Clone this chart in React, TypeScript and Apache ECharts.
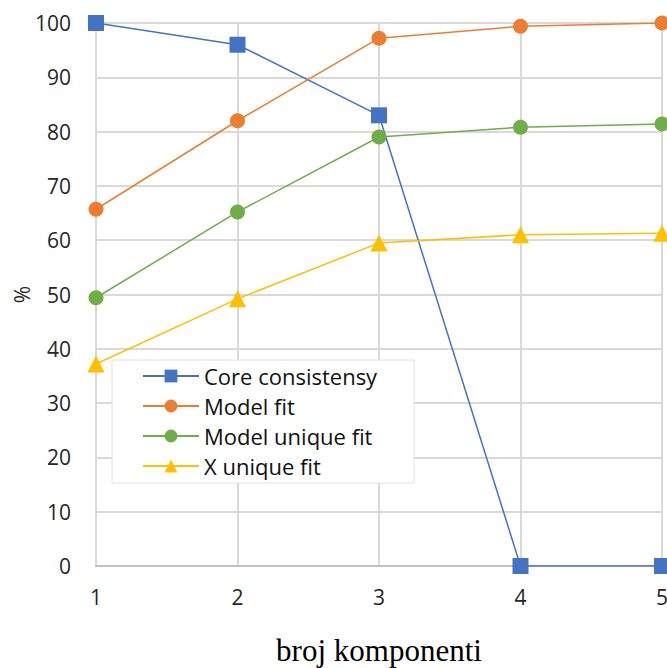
import React, { useEffect, useRef } from "react";
import * as echarts from "echarts";

const categories = ["1", "2", "3", "4", "5"];
const coreConsistensy = [100, 96, 83, 0, 0];
const modelFit = [65.7, 82, 97.2, 99.4, 100];
const modelUniqueFit = [49.4, 65.2, 79, 80.8, 81.4];
const xUniqueFit = [37.2, 49.2, 59.5, 61, 61.3];
const seriesNames = ["Core consistensy", "Model fit", "Model unique fit", "X unique fit"];

export default function App() {
  const ref = useRef<HTMLDivElement>(null);
  useEffect(() => {
    if (!ref.current) return;
    const chart = echarts.init(ref.current, null, { renderer: "svg" });
    const labelFont = { fontFamily: "Open Sans", fontSize: 21, color: "#262626" };
    const mk = (name: string, data: number[], color: string, symbol: string, size: number) => ({
      name,
      type: "line",
      data,
      symbol,
      symbolSize: size,
      itemStyle: { color },
      lineStyle: { color, width: 1.5 },
      z: 3,
    });
    chart.setOption({
      animation: false,
      backgroundColor: "#fff",
      grid: { left: 96, right: 5, top: 23, bottom: 102, containLabel: false, outerBoundsMode: "none" },
      xAxis: {
        type: "category",
        data: categories,
        boundaryGap: false,
        name: "broj komponenti",
        nameLocation: "middle",
        nameGap: 69,
        nameMoveOverlap: false,
        nameTextStyle: { fontFamily: "Liberation Serif", fontSize: 31, color: "#000" },
        axisLine: { show: true, lineStyle: { color: "#bfbfbf", width: 2 } },
        axisTick: { show: false },
        axisLabel: { ...labelFont, margin: 20 },
        splitLine: { show: true, lineStyle: { color: "#d9d9d9", width: 2 } },
      },
      yAxis: {
        type: "value",
        min: 0,
        max: 100,
        interval: 10,
        name: "%",
        nameLocation: "middle",
        nameRotate: 90,
        nameGap: 64,
        nameMoveOverlap: false,
        nameTextStyle: { fontFamily: "Open Sans", fontSize: 21, color: "#262626" },
        axisLine: { show: false },
        axisTick: { show: false },
        axisLabel: { ...labelFont, margin: 25 },
        splitLine: { show: true, lineStyle: { color: "#d9d9d9", width: 2 } },
      },
      legend: {
        data: seriesNames,
        orient: "vertical",
        left: 112,
        top: 360,
        width: 300,
        padding: [5, 37, 6, 30],
        itemWidth: 56,
        itemHeight: 16,
        itemGap: 8,
        backgroundColor: "#fff",
        borderColor: "#e2e2e2",
        borderWidth: 1,
        textStyle: { fontFamily: "Open Sans", fontSize: 22, color: "#111" },
        z: 10,
      },
      series: [
        mk(seriesNames[0], coreConsistensy, "#4472C4", "rect", 16),
        mk(seriesNames[1], modelFit, "#ED7D31", "circle", 15),
        mk(seriesNames[2], modelUniqueFit, "#70AD47", "circle", 15),
        mk(seriesNames[3], xUniqueFit, "#FFC000", "triangle", 17),
      ],
    });
    return () => chart.dispose();
  }, []);
  return (
    <div
      ref={ref}
      style={{ position: "fixed", left: 0, top: 0, width: 667, height: 668 }}
    />
  );
}
